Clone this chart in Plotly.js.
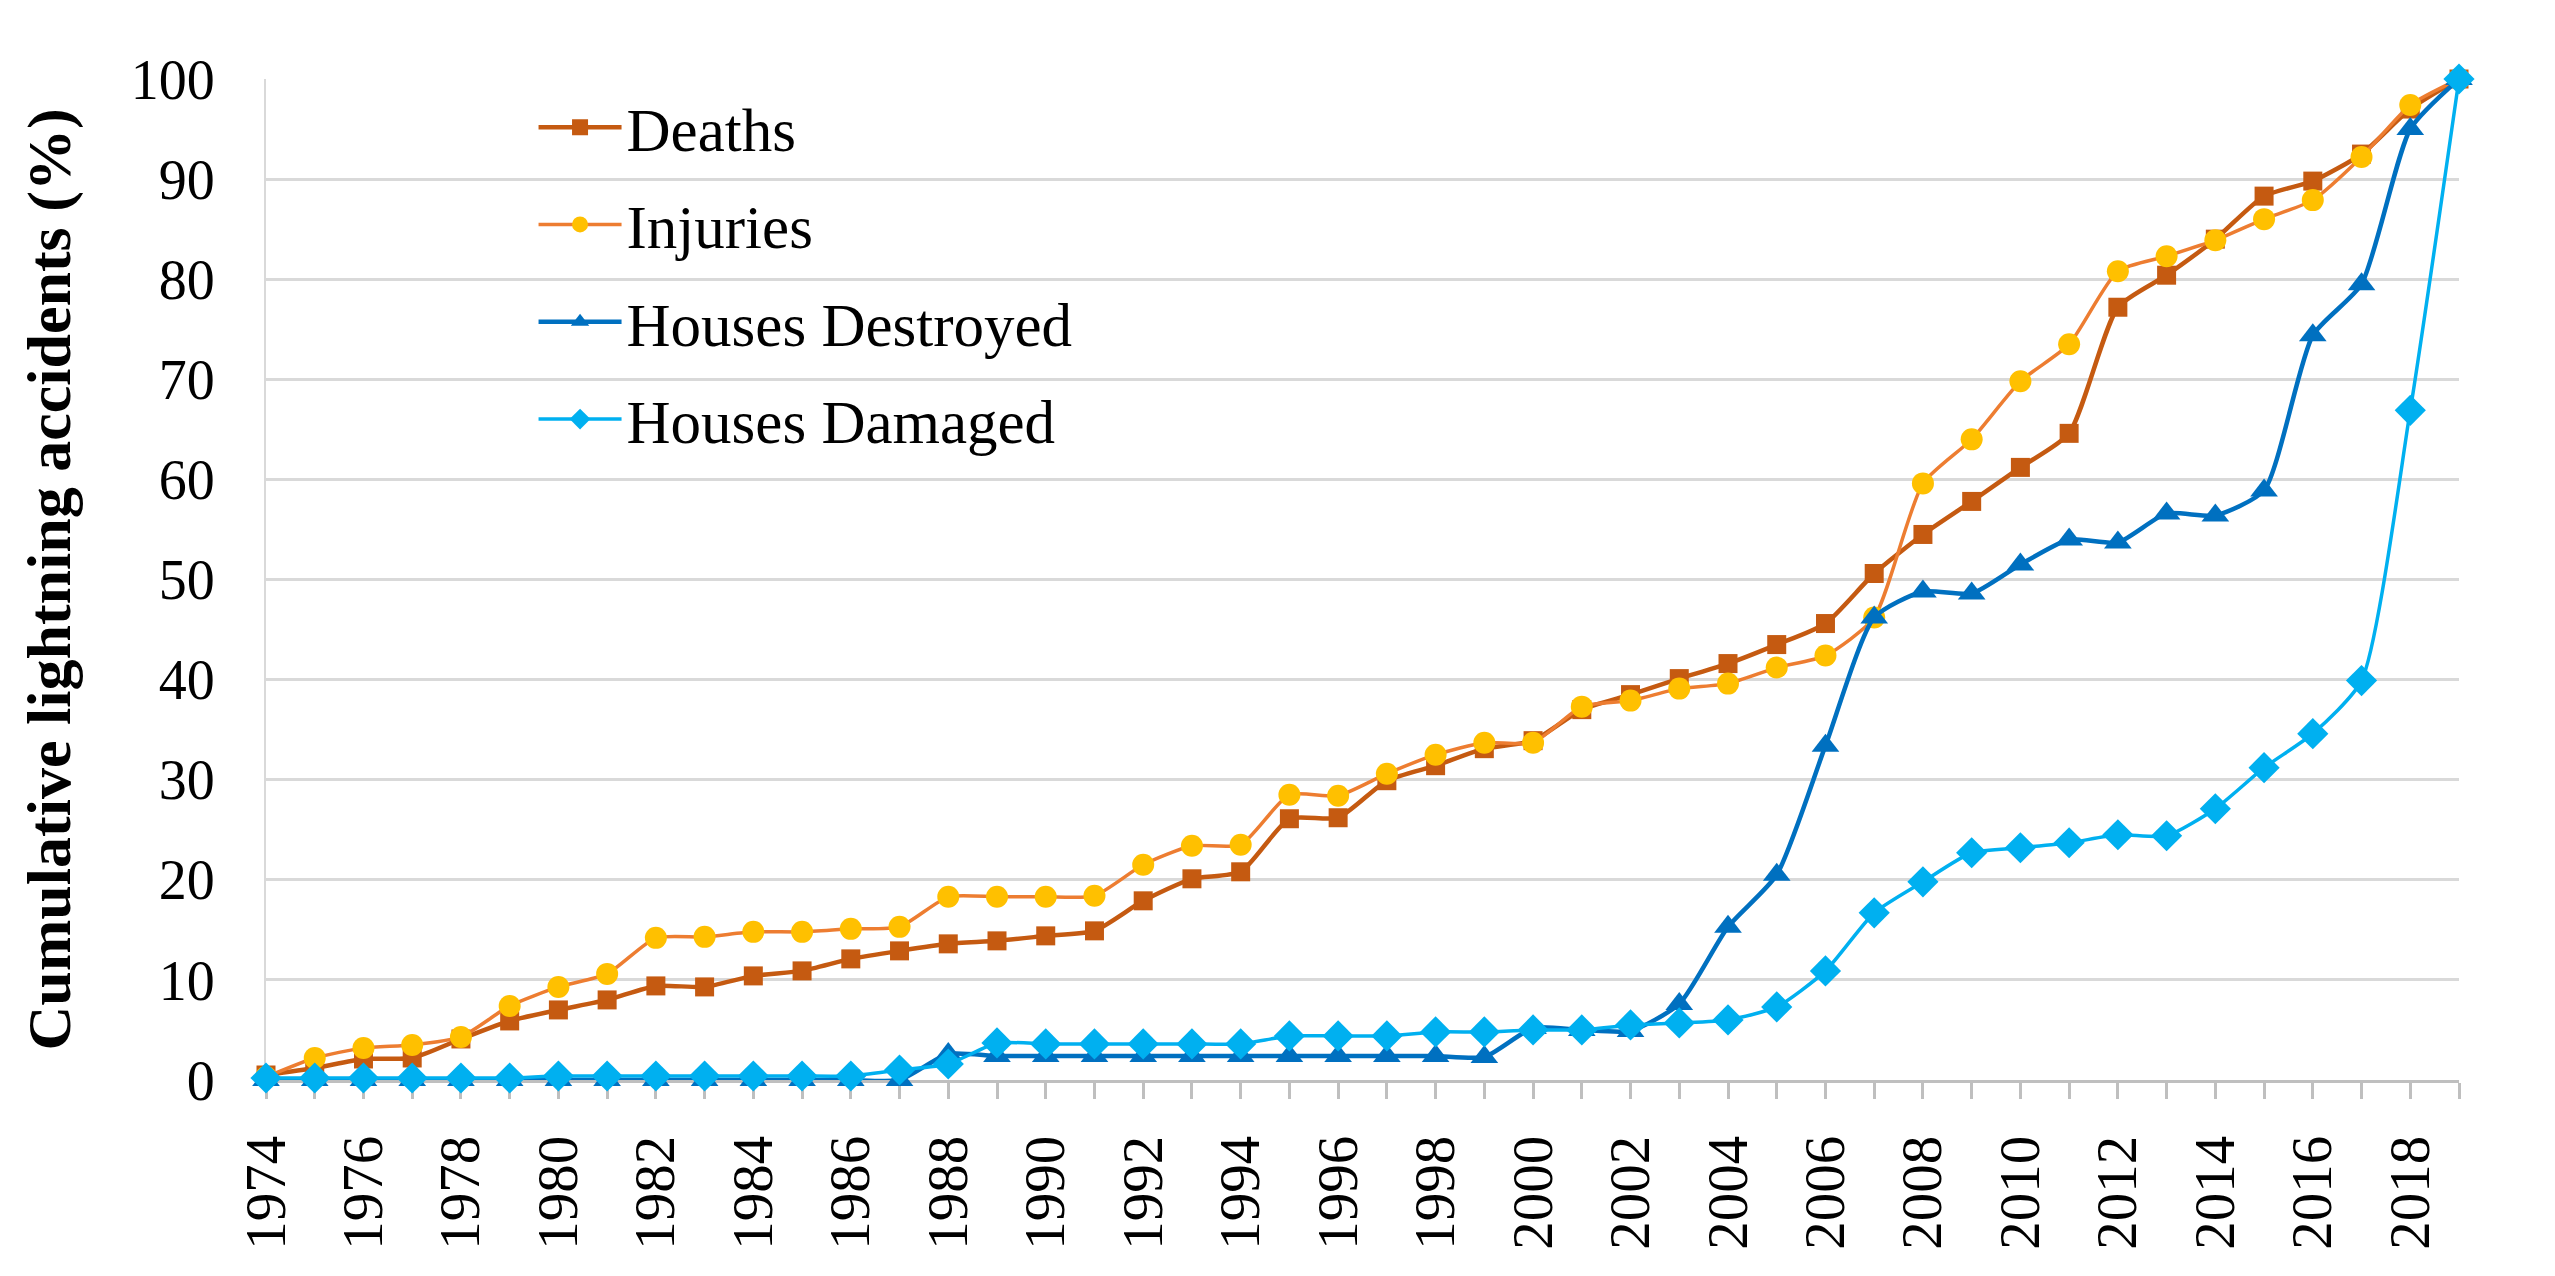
<!DOCTYPE html>
<html>
<head>
<meta charset="utf-8">
<script src="https://cdn.plot.ly/plotly-3.0.1.min.js"></script>
<style>
  html, body { margin: 0; padding: 0; background: #ffffff; }
  #chart { width: 2555px; height: 1276px; }
</style>
</head>
<body>
<div id="chart"></div>
<script>
// Categories (years)
const years = [1974, 1975, 1976, 1977, 1978, 1979, 1980, 1981, 1982, 1983,
               1984, 1985, 1986, 1987, 1988, 1989, 1990, 1991, 1992, 1993,
               1994, 1995, 1996, 1997, 1998, 1999, 2000, 2001, 2002, 2003,
               2004, 2005, 2006, 2007, 2008, 2009, 2010, 2011, 2012, 2013,
               2014, 2015, 2016, 2017, 2018, 2019];

// Tick labels (every second year)
const xTickLabels = ["1974", "", "1976", "", "1978", "", "1980", "", "1982", "",
                     "1984", "", "1986", "", "1988", "", "1990", "", "1992", "",
                     "1994", "", "1996", "", "1998", "", "2000", "", "2002", "",
                     "2004", "", "2006", "", "2008", "", "2010", "", "2012", "",
                     "2014", "", "2016", "", "2018", ""];

// Series values (cumulative %)
const deaths = [0.5, 1.2, 2.1, 2.2, 4.1, 5.9, 7.0, 8.0, 9.4, 9.3,
                10.4, 10.9, 12.1, 12.9, 13.6, 13.9, 14.4, 14.9, 17.9, 20.1,
                20.8, 26.1, 26.2, 29.9, 31.4, 33.1, 33.9, 37.0, 38.5, 40.1,
                41.6, 43.5, 45.6, 50.6, 54.5, 57.8, 61.2, 64.6, 77.2, 80.4,
                84.0, 88.3, 89.8, 92.5, 97.0, 100];

const injuries = [0.3, 2.2, 3.2, 3.5, 4.3, 7.4, 9.3, 10.6, 14.2, 14.3,
                  14.8, 14.8, 15.1, 15.3, 18.3, 18.3, 18.3, 18.4, 21.5, 23.4,
                  23.5, 28.5, 28.4, 30.6, 32.5, 33.7, 33.7, 37.3, 37.9, 39.1,
                  39.6, 41.2, 42.4, 46.2, 59.6, 64.0, 69.8, 73.5, 80.8, 82.3,
                  83.9, 86.0, 87.9, 92.2, 97.4, 100];

const housesDestroyed = [0, 0, 0, 0, 0, 0, 0, 0, 0, 0,
                         0, 0, 0, 0, 2.6, 2.4, 2.4, 2.4, 2.4, 2.4,
                         2.4, 2.4, 2.4, 2.4, 2.4, 2.3, 5.2, 5.0, 4.9, 7.6,
                         15.3, 20.5, 33.4, 46.2, 48.8, 48.6, 51.5, 54.0, 53.7, 56.6,
                         56.4, 58.9, 74.4, 79.5, 95.0, 100];

const housesDamaged = [0.2, 0.2, 0.2, 0.2, 0.2, 0.2, 0.4, 0.4, 0.4, 0.4,
                       0.4, 0.4, 0.4, 1.0, 1.6, 3.7, 3.6, 3.6, 3.6, 3.6,
                       3.6, 4.4, 4.4, 4.4, 4.8, 4.8, 5.0, 5.0, 5.5, 5.7,
                       6.0, 7.3, 10.9, 16.7, 19.8, 22.7, 23.2, 23.7, 24.5, 24.4,
                       27.1, 31.2, 34.6, 39.9, 66.9, 100];

const seriesNames = ["Deaths", "Injuries", "Houses Destroyed", "Houses Damaged"];

const FONT = "Liberation Serif, Times New Roman, serif";

function series(name, yvals, lineColor, lineWidth, symbol, markerColor, markerSize, group) {
  return {
    type: "scatter",
    mode: "lines+markers",
    name: name,
    legendgroup: group,
    x: years,
    y: yvals,
    cliponaxis: false,
    line: { color: lineColor, width: lineWidth, shape: "spline", smoothing: 0.6 },
    marker: { symbol: symbol, color: markerColor, size: markerSize, line: { width: 0 } },
    hoverinfo: "x+y+name"
  };
}

const traces = [
  series(seriesNames[0], deaths, "#C55A11", 4.5, "square", "#C55A11", 19, "g1"),
  series(seriesNames[1], injuries, "#ED7D31", 3.5, "circle", "#FFC000", 22, "g2"),
  series(seriesNames[2], housesDestroyed, "#0070C0", 4.5, "triangle-up", "#0070C0", 24, "g3"),
  series(seriesNames[3], housesDamaged, "#00B0F0", 3.5, "diamond", "#00B0F0", 24, "g4")
];

const layout = {
  width: 2555,
  height: 1276,
  paper_bgcolor: "#ffffff",
  plot_bgcolor: "#ffffff",
  margin: { l: 266, r: 96, t: 79, b: 196, pad: 0 },
  font: { family: FONT, size: 56, color: "#000000" },
  showlegend: true,
  legend: {
    x: 0.122, y: 0.998, xanchor: "left", yanchor: "top",
    bgcolor: "rgba(0,0,0,0)",
    font: { family: FONT, size: 61, color: "#000000" },
    tracegroupgap: 15,
    itemwidth: 83,
    traceorder: "grouped"
  },
  xaxis: {
    type: "linear",
    range: [1974, 2019],
    tickmode: "array",
    tickvals: years,
    ticktext: xTickLabels,
    tickangle: -90,
    ticks: "outside",
    ticklen: 16,
    tickwidth: 2.5,
    tickcolor: "#bfbfbf",
    ticklabelstandoff: 14,
    tickfont: { family: FONT, size: 57, color: "#000000" },
    showgrid: false,
    zeroline: false,
    showline: true,
    linecolor: "#bfbfbf",
    linewidth: 3,
    layer: "below traces"
  },
  xaxis2: {
    overlaying: "x",
    anchor: "y",
    side: "bottom",
    type: "linear",
    range: [1974, 2019],
    tickmode: "array",
    tickvals: years,
    ticks: "inside",
    ticklen: 19,
    tickwidth: 2.5,
    tickcolor: "#bfbfbf",
    showticklabels: false,
    showgrid: false,
    zeroline: false,
    showline: false,
    layer: "below traces"
  },
  yaxis: {
    range: [0, 100],
    tickmode: "linear",
    tick0: 0,
    dtick: 10,
    ticks: "",
    ticklabelstandoff: 38,
    tickfont: { family: FONT, size: 56, color: "#000000" },
    showgrid: true,
    gridcolor: "#d9d9d9",
    gridwidth: 3,
    zeroline: false,
    showline: true,
    linecolor: "#d9d9d9",
    linewidth: 2,
    layer: "below traces",
    title: {
      text: "<b>Cumulative lightning accidents (%)</b>",
      font: { family: FONT, size: 62, color: "#000000" },
      standoff: 40
    }
  }
};

Plotly.newPlot("chart", traces, layout, { displayModeBar: false, responsive: false });
</script>
</body>
</html>
